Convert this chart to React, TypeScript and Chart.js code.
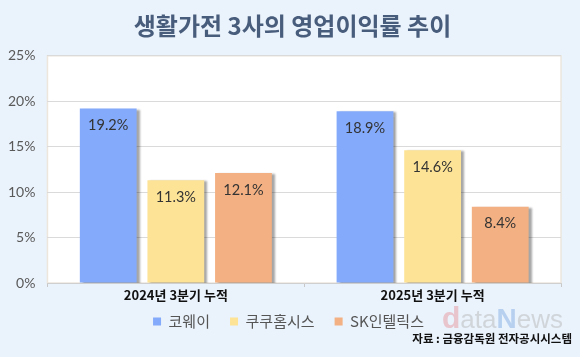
import React, { useEffect, useRef } from "react";
import { Chart, registerables } from "chart.js";

Chart.register(...registerables);

const categories = ["2024년 3분기 누적", "2025년 3분기 누적"];
const seriesNames = ["코웨이", "쿠쿠홈시스", "SK인텔릭스"];
const coway = [19.2, 18.9];
const cuckoo = [11.3, 14.6];
const skIntellix = [12.1, 8.4];
const seriesColors = ["#84AAFB", "#FDE396", "#F3B082"];
const titleText = "생활가전 3사의 영업이익률 추이";
const sourceText = "자료 : 금융감독원 전자공시시스템";

const KR = "'Noto Sans CJK KR', 'Noto Sans', sans-serif";
const NUM = "Lato, 'Noto Sans', sans-serif";

const decorPlugin = {
  id: "decor",
  afterLayout(chart: any) {
    if (chart.titleBlock) {
      chart.titleBlock.left += 14;
      chart.titleBlock.right += 14;
    }
    if (chart.legend) {
      chart.legend.left += 10;
      chart.legend.right += 10;
    }
  },
  beforeDraw(chart: any) {
    const { ctx, chartArea, width, height } = chart;
    ctx.save();
    ctx.fillStyle = "#EAF2FB";
    ctx.fillRect(0, 0, width, height);
    ctx.fillStyle = "#FFFFFF";
    ctx.fillRect(chartArea.left, chartArea.top, chartArea.right - chartArea.left, chartArea.bottom - chartArea.top);
    ctx.strokeStyle = "#ECE6DC";
    ctx.lineWidth = 1.5;
    ctx.strokeRect(chartArea.left, chartArea.top, chartArea.right - chartArea.left, chartArea.bottom - chartArea.top);
    ctx.restore();
  },
  beforeDatasetsDraw(chart: any) {
    const ctx = chart.ctx;
    ctx.save();
    ctx.shadowColor = "rgba(0,0,0,0.35)";
    ctx.shadowOffsetX = 3;
    ctx.shadowOffsetY = 1;
    ctx.shadowBlur = 2;
  },
  afterDatasetsDraw(chart: any) {
    const ctx = chart.ctx;
    ctx.restore();
    ctx.save();
    ctx.font = `14.5px ${NUM}`;
    ctx.fillStyle = "#333333";
    ctx.textAlign = "center";
    ctx.textBaseline = "middle";
    chart.data.datasets.forEach((ds: any, i: number) => {
      const meta = chart.getDatasetMeta(i);
      meta.data.forEach((el: any, j: number) => {
        ctx.fillText(ds.data[j].toFixed(1) + "%", el.x, el.y + 17);
      });
    });
    ctx.restore();
  },
  afterDraw(chart: any) {
    const { ctx, width } = chart;
    ctx.save();
    // watermark
    ctx.textBaseline = "alphabetic";
    ctx.textAlign = "left";
    let x = 442;
    const y = 328;
    const parts: [string, string, string][] = [
      ["d", "rgba(230,150,160,0.5)", "bold 30px"],
      ["ata", "rgba(170,170,170,0.4)", "26px"],
      ["N", "rgba(140,180,232,0.55)", "bold 28px"],
      ["ews", "rgba(170,170,170,0.4)", "26px"],
    ];
    parts.forEach(([t, c, f]) => {
      ctx.font = `${f} 'Liberation Sans', Arial, sans-serif`;
      ctx.fillStyle = c;
      ctx.fillText(t, x, y);
      x += ctx.measureText(t).width;
    });
    // source
    ctx.font = `bold 11.5px ${KR}`;
    ctx.fillStyle = "#111111";
    ctx.textAlign = "right";
    ctx.textBaseline = "middle";
    ctx.fillText(sourceText, width - 8, 339);
    ctx.restore();
  },
};

export default function App() {
  const ref = useRef<HTMLCanvasElement>(null);
  useEffect(() => {
    document.body.style.margin = "0";
    const values = [coway, cuckoo, skIntellix];
    const chart = new Chart(ref.current!, {
      type: "bar",
      data: {
        labels: categories,
        datasets: seriesNames.map((name, i) => ({
          label: name,
          data: values[i],
          backgroundColor: seriesColors[i],
          barPercentage: 0.84,
          categoryPercentage: 0.79,
        })),
      },
      options: {
        responsive: false,
        animation: false,
        layout: { padding: { left: -4, right: 19, top: 0, bottom: 18 } },
        plugins: {
          title: {
            display: true,
            text: titleText,
            color: "#485C7B",
            font: { family: KR, size: 24, weight: "bold" },
            padding: { top: 11, bottom: 16 },
          },
          legend: {
            position: "bottom",
            labels: {
              boxWidth: 8,
              boxHeight: 8,
              padding: 10,
              color: "#555555",
              font: { family: KR, size: 15 },
              generateLabels: (chart: any) => {
                const items = Chart.defaults.plugins.legend.labels.generateLabels(chart);
                return items.map((it: any, i: number) => ({
                  ...it,
                  text: i < items.length - 1 ? it.text + "   " : it.text,
                }));
              },
            },
          },
          tooltip: { enabled: false },
        },
        scales: {
          x: {
            grid: {
              offset: true,
              drawOnChartArea: false,
              drawTicks: true,
              tickLength: 4,
              color: "#C8C8C8",
            },
            border: { display: true, color: "#CFCFCF" },
            ticks: {
              color: "#111111",
              padding: 2,
              font: { family: KR, size: 13, weight: "bold", lineHeight: 1 },
            },
          },
          y: {
            min: 0,
            max: 25,
            ticks: {
              stepSize: 5,
              padding: 12,
              color: "#595959",
              font: { family: NUM, size: 14 },
              callback: (v: any) => v + "%",
            },
            grid: { color: "#DADADA", drawTicks: false },
            border: { display: false },
          },
        },
      },
      plugins: [decorPlugin],
    });
    return () => chart.destroy();
  }, []);
  return (
    <div style={{ width: 580, height: 357 }}>
      <canvas ref={ref} width={580} height={357} />
    </div>
  );
}
